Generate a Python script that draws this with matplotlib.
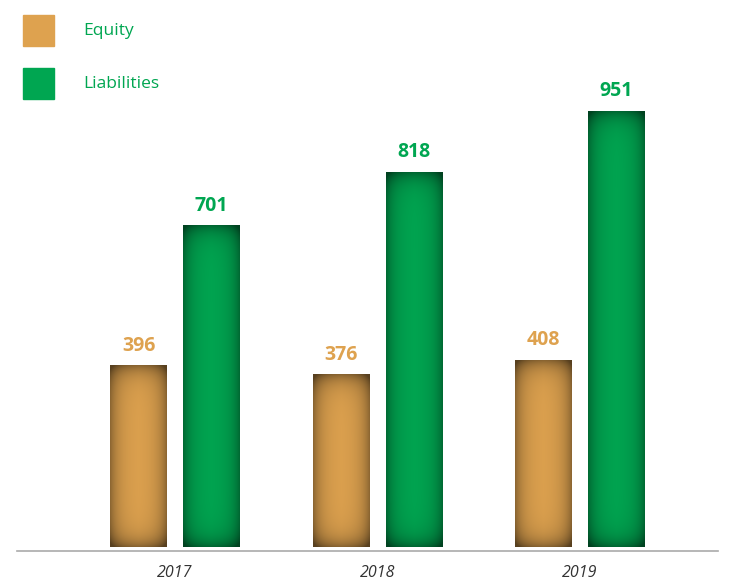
import matplotlib.pyplot as plt
import numpy as np
from matplotlib.colors import to_rgb

years = ["2017", "2018", "2019"]
equity = [396, 376, 408]
liabilities = [701, 818, 951]
series_names = ["Equity", "Liabilities"]

orange = "#DEA24F"
green = "#00A651"

fig = plt.figure(figsize=(7.33, 5.84), dpi=100)
ax = fig.add_axes([17 / 733, 33 / 584, 701 / 733, 551 / 584])

x = np.arange(len(years))
w = 0.281
off = 0.18


def shaded_bar(xc, h, color):
    # bar filled with a vignette (darker towards the edges)
    px_per_unit = 0.46
    nx = 57
    ny = max(int(h * px_per_unit), 2)
    dx = np.minimum(np.arange(nx), np.arange(nx)[::-1]) + 0.5
    dy = np.minimum(np.arange(ny), np.arange(ny)[::-1]) + 0.5
    fx = np.exp(-dx / 9.0)
    fy = np.exp(-dy / 10.0)
    dark = 1 - np.clip(0.38 * (fx[None, :] + fy[:, None]), 0, 0.6)
    img = np.array(to_rgb(color))[None, None, :] * dark[:, :, None]
    ax.imshow(img, extent=(xc - w / 2, xc + w / 2, 0, h), aspect="auto",
              interpolation="bilinear", origin="lower", zorder=2)


for i in range(len(years)):
    shaded_bar(x[i] - off, equity[i], orange)
    shaded_bar(x[i] + off, liabilities[i], green)
    ax.text(x[i] - off, equity[i] + 22, str(equity[i]), ha="center", va="bottom",
            color=orange, fontsize=14, fontweight="bold", family="Open Sans")
    ax.text(x[i] + off, liabilities[i] + 22, str(liabilities[i]), ha="center", va="bottom",
            color=green, fontsize=14, fontweight="bold", family="Open Sans")

ax.set_xlim(-0.780, 2.681)
ax.set_ylim(-8.7, 1194)
ax.set_xticks(x)
ax.set_xticklabels(years, fontsize=11.5, style="italic", color="#333333", family="Open Sans")
ax.tick_params(axis="x", length=0, pad=10)
ax.set_yticks([])
for s in ["top", "left", "right"]:
    ax.spines[s].set_visible(False)
ax.spines["bottom"].set_color("#AAAAAA")
ax.spines["bottom"].set_linewidth(1.2)

# legend squares drawn in figure pixels
for j, (name, col) in enumerate(zip(series_names, [orange, green])):
    top = 15 + j * 53
    fig.patches.append(plt.Rectangle((23 / 733, 1 - (top + 31) / 584), 31 / 733, 31 / 584,
                                     transform=fig.transFigure, color=col))
    fig.text(83 / 733, 1 - (top + 16) / 584, name, va="center", ha="left",
             color=green, fontsize=12.5, family="Open Sans")

fig.savefig("out.png", dpi=100)
